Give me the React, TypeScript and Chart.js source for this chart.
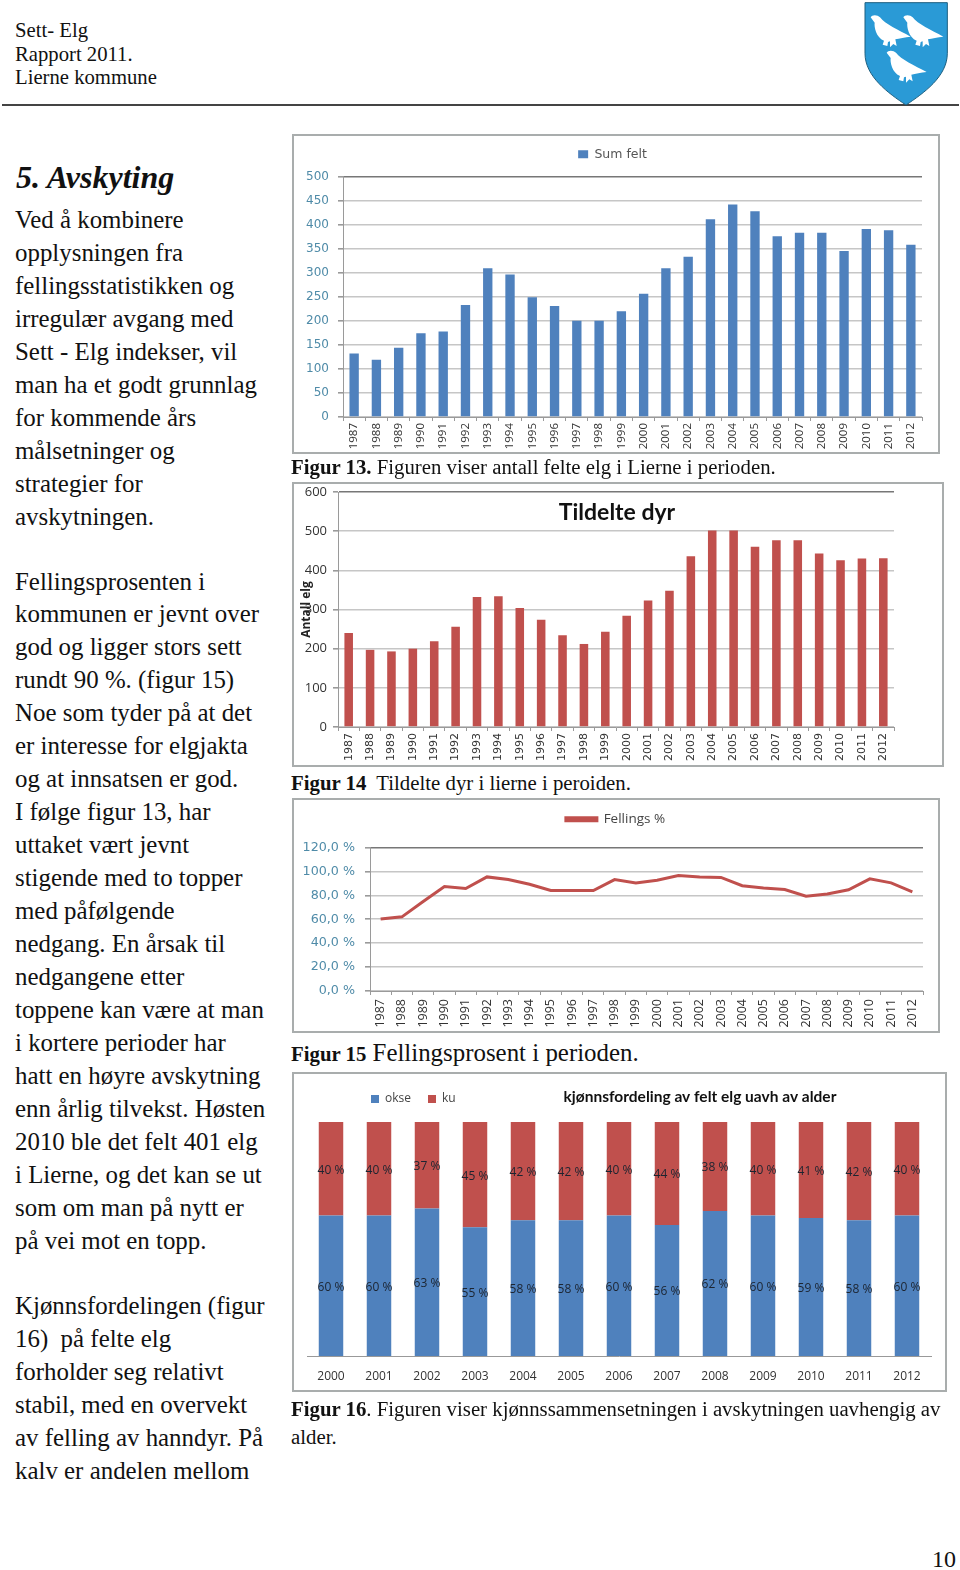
import React, { useEffect, useRef } from "react";
import { Chart, registerables } from "chart.js";

Chart.register(...registerables);

const yearsLong = ["1987","1988","1989","1990","1991","1992","1993","1994","1995","1996","1997","1998","1999","2000","2001","2002","2003","2004","2005","2006","2007","2008","2009","2010","2011","2012"];
const yearsShort = ["2000","2001","2002","2003","2004","2005","2006","2007","2008","2009","2010","2011","2012"];
const sumFelt = [132,119,144,174,178,233,309,296,249,231,200,200,220,256,309,333,411,442,428,376,383,383,345,391,388,358];
const tildelte = [240,197,193,200,219,256,332,334,304,274,234,212,243,284,323,348,436,502,502,460,477,477,443,426,430,431];
const fellingsPct = [60.3,62,74.8,87.4,85.7,95.4,93.2,89.3,84,84,84,93.2,90.4,92.7,96.6,95.4,95,88,86.2,84.8,79.3,81.2,84.6,93.8,90.4,82.9];
const okse = [60,60,63,55,58,58,60,56,62,60,59,58,60];
const ku = [40,40,37,45,42,42,40,44,38,40,41,42,40];

const headerLines = ["Sett- Elg","Rapport 2011.","Lierne kommune"];
const para1 = ["Ved å kombinere","opplysningen fra","fellingsstatistikken og","irregulær avgang med","Sett - Elg indekser, vil","man ha et godt grunnlag","for kommende års","målsetninger og","strategier for","avskytningen."];
const para2 = ["Fellingsprosenten i","kommunen er jevnt over","god og ligger stors sett","rundt 90 %. (figur 15)","Noe som tyder på at det","er interesse for elgjakta","og at innsatsen er god.","I følge figur 13, har","uttaket vært jevnt","stigende med to topper","med påfølgende","nedgang. En årsak til","nedgangene etter","toppene kan være at man","i kortere perioder har","hatt en høyre avskytning","enn årlig tilvekst. Høsten","2010 ble det felt 401 elg","i Lierne, og det kan se ut","som om man på nytt er","på vei mot en topp."];
const para3 = ["Kjønnsfordelingen (figur","16)  på felte elg","forholder seg relativt","stabil, med en overvekt","av felling av hanndyr. På","kalv er andelen mellom"];

const BLUE = "#4f81bd";
const RED = "#c0504d";
const TEAL = "#4f8ba8";
const GRID = "#c6c6c6";
const TOPGRID = "#777777";
const AXIS = "#9a9a9a";

const legendShift = (dx: number, dy: number) => ({
  id: "legendShift",
  afterLayout(chart: any) {
    if (chart.legend) {
      chart.legend.left += dx;
      chart.legend.top += dy;
    }
  },
});

const innerTitle = (text: string, cx: number, cy: number, font: string) => ({
  id: "innerTitle",
  afterDraw(chart: any) {
    const c = chart.ctx;
    c.save();
    c.font = font;
    c.fillStyle = "#111";
    c.textAlign = "center";
    c.textBaseline = "middle";
    c.fillText(text, cx, cy);
    c.restore();
  },
});

const segmentLabels = {
  id: "segmentLabels",
  afterDatasetsDraw(chart: any) {
    const c = chart.ctx;
    c.save();
    c.font = "12px 'Open Sans'";
    c.fillStyle = "#1c2430";
    c.textAlign = "center";
    c.textBaseline = "middle";
    chart.data.datasets.forEach((ds: any, i: number) => {
      chart.getDatasetMeta(i).data.forEach((bar: any, j: number) => {
        c.fillText(ds.data[j] + " %", bar.x, (bar.y + bar.base) / 2 + 1.5);
      });
    });
    c.restore();
  },
};

const gridColor = (ctx: any) => (ctx.index === ctx.chart.scales.y.ticks.length - 1 ? TOPGRID : GRID);

const xScale = (h: number, font: any, color: string, pad = 2) => ({
  offset: true,
  grid: { display: true, drawOnChartArea: false, drawTicks: true, tickLength: 4, color: AXIS, offset: true },
  border: { color: AXIS },
  ticks: { minRotation: 90, maxRotation: 90, font, color, padding: pad, autoSkip: false },
  afterFit: (s: any) => { s.height = h; s.paddingLeft = 0; s.paddingRight = 0; },
});

const yScale = (w: number, max: number, step: number, font: any, color: string, pad: number, cb?: any, title?: any) => ({
  min: 0,
  max,
  title,
  grid: { color: gridColor, lineWidth: 1.6, tickLength: 5, tickColor: AXIS },
  border: { color: AXIS },
  ticks: { stepSize: step, font, color, padding: pad, callback: cb },
  afterFit: (s: any) => { s.width = w; s.paddingTop = 0; s.paddingBottom = 0; },
});

const config13 = {
  type: "bar",
  data: { labels: yearsLong, datasets: [{ label: "Sum felt", data: sumFelt, backgroundColor: BLUE, barPercentage: 0.42, categoryPercentage: 1 }] },
  options: {
    animation: false, responsive: false,
    layout: { autoPadding: false, padding: { top: 7, right: 18, left: 0, bottom: 0 } },
    plugins: {
      legend: { display: true, labels: { boxWidth: 10, boxHeight: 8, padding: 13, font: { family: "DejaVu Sans", size: 12.5 }, color: "#555" } },
      tooltip: { enabled: false },
    },
    scales: {
      x: xScale(37, { family: "Open Sans", size: 11.5 }, "#333"),
      y: yScale(51, 500, 50, { family: "DejaVu Sans", size: 12 }, TEAL, 9),
    },
  },
  plugins: [legendShift(11, -6)],
};

const config14 = {
  type: "bar",
  data: { labels: yearsLong, datasets: [{ label: "Tildelte dyr", data: tildelte, backgroundColor: RED, barPercentage: 0.4, categoryPercentage: 1 }] },
  options: {
    animation: false, responsive: false,
    layout: { autoPadding: false, padding: { top: 10, right: 50, left: 0, bottom: 0 } },
    plugins: { legend: { display: false }, tooltip: { enabled: false } },
    scales: {
      x: xScale(40, { family: "DejaVu Sans", size: 11 }, "#333"),
      y: yScale(46, 600, 100, { family: "Open Sans", size: 13 }, "#333", 6, undefined, {
        display: true, text: "Antall elg", color: "#222", padding: { top: 7, bottom: 0 }, font: { family: "Open Sans", size: 12, weight: "bold" },
      }),
    },
  },
  plugins: [innerTitle("Tildelte dyr", 325, 31, "bold 23px Lato")],
};

const config15 = {
  type: "line",
  data: { labels: yearsLong, datasets: [{ label: "Fellings %", data: fellingsPct, borderColor: RED, backgroundColor: RED, borderWidth: 3, pointRadius: 0, tension: 0 }] },
  options: {
    animation: false, responsive: false,
    layout: { autoPadding: false, padding: { top: 11, right: 17, left: 0, bottom: 0 } },
    plugins: {
      legend: { display: true, labels: { boxWidth: 31, boxHeight: 3, padding: 15, font: { family: "Open Sans", size: 13.5 }, color: "#444" } },
      tooltip: { enabled: false },
    },
    scales: {
      x: xScale(42, { family: "Open Sans", size: 12.5 }, "#333", 4),
      y: yScale(78, 120, 20, { family: "DejaVu Sans", size: 12.7 }, TEAL, 10, (v: number) => v.toFixed(1).replace(".", ",") + " %"),
    },
  },
  plugins: [legendShift(16, -11.5)],
};

const config16 = {
  type: "bar",
  data: {
    labels: yearsShort,
    datasets: [
      { label: "okse", data: okse, backgroundColor: BLUE, barPercentage: 0.51, categoryPercentage: 1 },
      { label: "ku", data: ku, backgroundColor: RED, barPercentage: 0.51, categoryPercentage: 1 },
    ],
  },
  options: {
    animation: false, responsive: false,
    layout: { autoPadding: false, padding: { top: 11, right: 16, left: 15, bottom: 0 } },
    plugins: {
      legend: { display: true, align: "start", labels: { boxWidth: 8, boxHeight: 8, padding: 17, font: { family: "Open Sans", size: 12 }, color: "#444" } },
      tooltip: { enabled: false },
    },
    scales: {
      x: {
        stacked: true,
        grid: { display: false },
        border: { color: "#999" },
        ticks: { font: { family: "Open Sans", size: 12 }, color: "#333", padding: 5, maxRotation: 0 },
        afterFit: (s: any) => { s.height = 36; s.paddingLeft = 0; s.paddingRight = 0; },
      },
      y: { stacked: true, display: false, min: 0, max: 100 },
    },
  },
  plugins: [legendShift(47, -7), segmentLabels, innerTitle("kjønnsfordeling av felt elg uavh av alder", 408, 25, "bold 15.5px Lato")],
};

function Card({ config, left, top, width, height }: any) {
  const ref = useRef<HTMLCanvasElement>(null);
  useEffect(() => {
    const chart = new Chart(ref.current as any, config);
    return () => chart.destroy();
  }, [config]);
  return (
    <div style={{ position: "absolute", left, top, width, height, outline: "2px solid #a9adad", outlineOffset: -2 }}>
      <canvas ref={ref} width={width} height={height} style={{ display: "block", width, height }} />
    </div>
  );
}

const serif = "'Liberation Serif', serif";

function Lines({ lines, top, step, size, left = 15 }: any) {
  return (
    <>
      {lines.map((t: string, i: number) => (
        <div key={i} style={{ position: "absolute", left, top: top + i * step - step / 2, height: step, lineHeight: step + "px", fontSize: size, fontFamily: serif, whiteSpace: "pre", color: "#111" }}>{t}</div>
      ))}
    </>
  );
}

function Caption({ bold, rest, top, size = 20.8, restSize, left = 291 }: any) {
  return (
    <div style={{ position: "absolute", left, top, lineHeight: "28px", fontSize: size, fontFamily: serif, whiteSpace: "pre", color: "#111" }}>
      <b>{bold}</b><span style={{ fontSize: restSize ?? size }}>{rest}</span>
    </div>
  );
}

const BIRD = "M92,52 C96,44 112,44 120,52 C135,72 175,90 212,110 C195,112 178,116 166,118 L170,138 L160,132 L150,142 L150,124 L144,126 L142,138 L128,134 L132,122 C108,112 102,80 104,68 Z";

export default function App() {
  useEffect(() => { document.body.style.margin = "0"; }, []);
  return (
    <div style={{ position: "absolute", left: 0, top: 0, width: 960, height: 1570, background: "#fff", overflow: "hidden" }}>
      <Lines lines={headerLines} top={31} step={23.5} size={20.7} />
      <div style={{ position: "absolute", left: 2, top: 104, width: 957, height: 2, background: "#444" }} />
      <svg style={{ position: "absolute", left: 840, top: 0 }} width={120} height={115} viewBox="0 0 360 345">
        <path d="M75,8 H322 V160 C322,230 250,280 198,315 C146,280 75,230 75,160 Z" fill="#2a9ad6" stroke="#1d5f80" strokeWidth={3} />
        <path d={BIRD} fill="#fff" />
        <path d={BIRD} fill="#fff" transform="translate(98,0)" />
        <path d={BIRD} fill="#fff" transform="translate(48,106)" />
      </svg>
      <div style={{ position: "absolute", left: 16, top: 158, lineHeight: "38px", fontSize: 32, fontFamily: serif, fontWeight: "bold", fontStyle: "italic", color: "#111", whiteSpace: "pre" }}>5. Avskyting</div>
      <Lines lines={para1} top={219} step={33} size={24.9} />
      <Lines lines={para2} top={582} step={32.95} size={24.9} />
      <Lines lines={para3} top={1305} step={33} size={24.9} />

      <Card config={config13} left={292} top={134} width={648} height={320} />
      <Caption bold="Figur 13." rest=" Figuren viser antall felte elg i Lierne i perioden." top={453} />
      <Card config={config14} left={292} top={482} width={652} height={285} />
      <Caption bold="Figur 14" rest="  Tildelte dyr i lierne i peroiden." top={769} />
      <Card config={config15} left={292} top={798} width={648} height={235} />
      <Caption bold="Figur 15" rest=" Fellingsprosent i perioden." top={1039} restSize={24.9} />
      <Card config={config16} left={292} top={1072} width={655} height={320} />
      <Caption bold="Figur 16" rest=". Figuren viser kjønnssammensetningen i avskytningen uavhengig av" top={1395} />
      <Caption bold="" rest="alder." top={1423} />
      <div style={{ position: "absolute", left: 932, top: 1544, fontSize: 24, lineHeight: "30px", fontFamily: serif, color: "#111" }}>10</div>
    </div>
  );
}
